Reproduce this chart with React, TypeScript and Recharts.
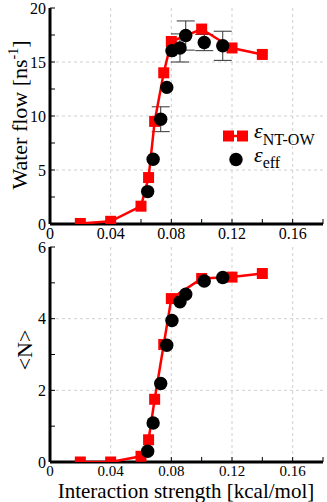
import React from 'react';
import { ComposedChart, Scatter, XAxis, YAxis, CartesianGrid, ErrorBar, Legend } from 'recharts';

// ---- data ----
const xNT = [0.02, 0.04, 0.06, 0.065, 0.069, 0.075, 0.08, 0.10, 0.12, 0.14];
const flowNT = [0.05, 0.25, 1.65, 4.3, 9.5, 14.0, 16.9, 18.05, 16.3, 15.7];
const nNT = [0.0, 0.0, 0.16, 0.62, 1.75, 3.28, 4.56, 5.12, 5.16, 5.26];

const xEff = [0.0644, 0.068, 0.073, 0.077, 0.0804, 0.0857, 0.0895, 0.1017, 0.1139];
const flowEff = [3.0, 6.0, 9.7, 12.65, 16.05, 16.3, 17.45, 16.8, 16.5];
const flowEffErr = [0, 0, 1.15, 0, 0, 1.3, 1.35, 0.75, 1.35];
const nEff = [0.3, 1.09, 2.19, 3.26, 3.95, 4.47, 4.68, 5.05, 5.15];

const xTicks = [0, 0.02, 0.04, 0.06, 0.08, 0.1, 0.12, 0.14, 0.16, 0.18];
const xMajor = [0, 0.04, 0.08, 0.12, 0.16];
const xMajorLabels = ['0', '0.04', '0.08', '0.12', '0.16'];
const flowTicks = [0, 2.5, 5, 7.5, 10, 12.5, 15, 17.5, 20];
const flowMajor = [0, 5, 10, 15, 20];
const nTicks = [0, 1, 2, 3, 4, 5, 6];
const nMajor = [0, 2, 4, 6];

const legendSymbol = 'ε';
const legendSubs = ['NT-OW', 'eff'];
const flowTitle = 'Water flow [ns';
const flowTitleSup = '-1';
const nTitle = '<N>';
const xTitle = 'Interaction strength [kcal/mol]';

const ntData = xNT.map((x, i) => ({ x, flow: flowNT[i], n: nNT[i] }));
const effData = xEff.map((x, i) => ({ x, flow: flowEff[i], err: flowEffErr[i], n: nEff[i] }));

const FONT = 'Liberation Serif';
const RED = '#ff0000';

const makeXTick = (size: number) => (props: any) => {
  const { x, y, payload } = props;
  const idx = xMajor.indexOf(payload.value);
  if (idx < 0) return <g />;
  return (
    <text x={x} y={y} dy="0.71em" textAnchor="middle" fontSize={size} fontFamily={FONT} fill="#000">
      {xMajorLabels[idx]}
    </text>
  );
};

const makeYTick = (major: number[]) => (props: any) => {
  const { x, y, payload } = props;
  if (major.indexOf(payload.value) < 0) return <g />;
  return (
    <text x={x} y={y} dy="0.355em" textAnchor="end" fontSize={16} fontFamily={FONT} fill="#000">
      {String(payload.value)}
    </text>
  );
};

const NoTick = () => <g />;

const Square = (p: any) => {
  const { cx, cy } = p;
  if (cx == null || cy == null) return <g />;
  return <rect x={cx - 5.5} y={cy - 5.5} width={11} height={11} fill={RED} />;
};
const Dot = (p: any) => {
  const { cx, cy } = p;
  if (cx == null || cy == null) return <g />;
  return <circle cx={cx} cy={cy} r={6.7} fill="#000" />;
};

const LegendContent = () => (
  <svg width={110} height={50} style={{ overflow: 'visible' }}>
    <line x1={10.5} y1={10} x2={24.5} y2={10} stroke={RED} strokeWidth={2.5} />
    <rect x={5} y={4.5} width={11} height={11} fill={RED} />
    <rect x={19} y={4.5} width={11} height={11} fill={RED} />
    <text x={36} y={12} fontFamily={FONT} fill="#000">
      <tspan fontSize={22} fontStyle="italic">{legendSymbol}</tspan>
      <tspan fontSize={16} dy={7}>{legendSubs[0]}</tspan>
    </text>
    <circle cx={18} cy={33.5} r={6.7} fill="#000" />
    <text x={36} y={36} fontFamily={FONT} fill="#000">
      <tspan fontSize={22} fontStyle="italic">{legendSymbol}</tspan>
      <tspan fontSize={16} dy={6}>{legendSubs[1]}</tspan>
    </text>
  </svg>
);

const FlowLabel = (props: any) => {
  const cx = 27;
  const cy = 115;
  return (
    <text x={cx} y={cy} transform={`rotate(-90 ${cx} ${cy})`} textAnchor="middle" fontSize={22} fontFamily={FONT} fill="#000">
      {flowTitle}
      <tspan fontSize={14} dy={-9}>{flowTitleSup}</tspan>
      <tspan dy={9}>]</tspan>
    </text>
  );
};

const NLabel = (props: any) => {
  const cx = 32;
  const cy = 116;
  return (
    <text x={cx} y={cy} transform={`rotate(-90 ${cx} ${cy})`} textAnchor="middle" fontSize={22} fontFamily={FONT} fill="#000">
      {nTitle}
    </text>
  );
};

const XTitle = (props: any) => (
  <text x={186} y={264} textAnchor="middle" fontSize={21} fontFamily={FONT} fill="#000">
    {xTitle}
  </text>
);

const axisLine = { stroke: '#000', strokeWidth: 3 };
const tickLine = { stroke: '#000', strokeWidth: 1 };

export default function App() {
  return (
    <div style={{ position: 'absolute', left: 0, top: 0, width: 327, height: 502, background: '#fff', fontFamily: FONT }}>
      <div style={{ position: 'absolute', left: 0, top: 0 }}>
        <ComposedChart width={327} height={244} margin={{ top: 8, right: 4, bottom: 0, left: 0 }}>
          <CartesianGrid stroke="#d0d0d0" strokeDasharray="3 3" verticalValues={[0.04, 0.08, 0.12, 0.16]} horizontalValues={[5, 10, 15]} />
          <XAxis dataKey="x" type="number" domain={[0, 0.18]} allowDataOverflow ticks={xTicks} interval={0} tick={makeXTick(16)} tickSize={-5} tickMargin={9} height={20} axisLine={axisLine} tickLine={tickLine} />
          <XAxis xAxisId="top" orientation="top" type="number" domain={[0, 0.18]} allowDataOverflow ticks={xTicks} interval={0} tick={<NoTick />} tickSize={-5} height={0} axisLine={axisLine} tickLine={tickLine} />
          <YAxis type="number" domain={[0, 20]} allowDataOverflow ticks={flowTicks} interval={0} tick={makeYTick(flowMajor)} tickSize={-5} tickMargin={9} width={50} axisLine={axisLine} tickLine={tickLine} label={<FlowLabel />} />
          <YAxis yAxisId="right" orientation="right" type="number" domain={[0, 20]} allowDataOverflow ticks={flowTicks} interval={0} tick={<NoTick />} tickSize={-5} width={0} axisLine={axisLine} tickLine={tickLine} />
          <Legend verticalAlign="middle" align="center" layout="horizontal" content={<LegendContent />} wrapperStyle={{ position: 'absolute', left: 218, top: 126, width: 110, height: 50 }} />
          <Scatter name="NT-OW" data={ntData} dataKey="flow" shape={<Square />} line={{ stroke: RED, strokeWidth: 2.5 }} isAnimationActive={false} />
          <Scatter name="eff" data={effData} dataKey="flow" shape={<Dot />} isAnimationActive={false}>
            <ErrorBar dataKey="err" direction="y" width={9} stroke="#333" strokeWidth={1} />
          </Scatter>
        </ComposedChart>
      </div>
      <div style={{ position: 'absolute', left: 0, top: 234 }}>
        <ComposedChart width={327} height={268} margin={{ top: 13, right: 4, bottom: 0, left: 0 }}>
          <CartesianGrid stroke="#d0d0d0" strokeDasharray="3 3" verticalValues={[0.04, 0.08, 0.12, 0.16]} horizontalValues={[2, 4]} />
          <XAxis dataKey="x" type="number" domain={[0, 0.18]} allowDataOverflow ticks={xTicks} interval={0} tick={makeXTick(15)} tickSize={-5} tickMargin={8} height={40} axisLine={axisLine} tickLine={tickLine} label={<XTitle />} />
          <XAxis xAxisId="top" orientation="top" type="number" domain={[0, 0.18]} allowDataOverflow ticks={xTicks} interval={0} tick={<NoTick />} tickSize={-5} height={0} axisLine={axisLine} tickLine={tickLine} />
          <YAxis type="number" domain={[0, 6]} allowDataOverflow ticks={nTicks} interval={0} tick={makeYTick(nMajor)} tickSize={-5} tickMargin={9} width={50} axisLine={axisLine} tickLine={tickLine} label={<NLabel />} />
          <YAxis yAxisId="right" orientation="right" type="number" domain={[0, 6]} allowDataOverflow ticks={nTicks} interval={0} tick={<NoTick />} tickSize={-5} width={0} axisLine={axisLine} tickLine={tickLine} />
          <Scatter name="NT-OW" data={ntData} dataKey="n" shape={<Square />} line={{ stroke: RED, strokeWidth: 2.5 }} isAnimationActive={false} />
          <Scatter name="eff" data={effData} dataKey="n" shape={<Dot />} isAnimationActive={false} />
        </ComposedChart>
      </div>
    </div>
  );
}
